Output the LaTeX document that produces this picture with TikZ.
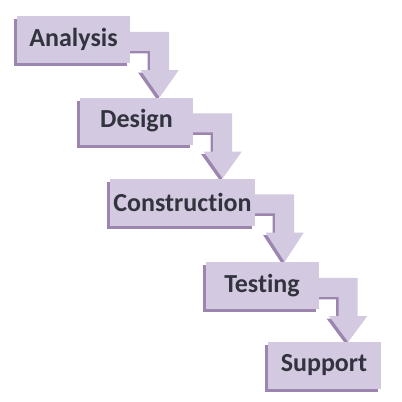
\documentclass[tikz,border=0pt]{standalone}
\usepackage{fontspec}
\setmainfont{Carlito}[Ligatures={NoCommon,NoContextual}]
\usepackage{tikz}
\usetikzlibrary{calc}
\usetikzlibrary{shadows}
\definecolor{lavender}{HTML}{D3C9E0}
\definecolor{lavshadow}{HTML}{9C86B0}
\definecolor{stagetext}{HTML}{33333F}
\tikzstyle{stage}=[rectangle,fill=lavender,inner sep=0mm,minimum height=47pt,minimum width=113pt,
  text=stagetext,font=\fontsize{26}{28}\selectfont\bfseries,
  drop shadow={shadow xshift=-3pt,shadow yshift=-3pt,fill=lavshadow,opacity=1}]
\tikzstyle{flow}=[fill=lavender,
  drop shadow={shadow xshift=-2.5pt,shadow yshift=-2.5pt,fill=lavshadow,opacity=1}]
% bent arrow from the right side of #1 down to the top of #2
\newcommand \stagearrow [2] {
  \coordinate (ne) at (#1.north east);
  \coordinate (se) at (#1.south east);
  \coordinate (tip) at ($(se)+(29.5,0)$);
  \fill[flow] ($(ne)+(-3,16)$) -- ($(ne)+(39,16)$) -- ($(se)+(39,7)$) -- ($(se)+(48.5,7)$)
    -- (tip |- #2.north) -- ($(se)+(10.5,7)$) -- ($(se)+(20,7)$) -- ($(ne)+(20,35)$)
    -- ($(ne)+(-3,35)$) -- cycle;
}

\begin{document}
\begin{tikzpicture}[x=1pt,y=-1pt]
          \useasboundingbox[fill=white] (0,0) rectangle (402,402);
          \node[stage] at (73.5,39.5) (analysis) {Analysis};
          \node[stage] at (136.5,121) (design) {Design};
          \node[stage,minimum width=145pt] at (182.5,202) (construction) {Construction};
          \node[stage] at (262,285.5) (testing) {Testing};
          \node[stage] at (324,365.5) (support) {Support};
          \stagearrow{analysis}{design}
          \stagearrow{design}{construction}
          \stagearrow{construction}{testing}
          \stagearrow{testing}{support}
          % boxes again, on top of the arrow ends
          \node[stage] at (analysis) {Analysis};
          \node[stage] at (design) {Design};
          \node[stage,minimum width=145pt] at (construction) {Construction};
          \node[stage] at (testing) {Testing};
          \node[stage] at (support) {Support};
        \end{tikzpicture}
\end{document}
